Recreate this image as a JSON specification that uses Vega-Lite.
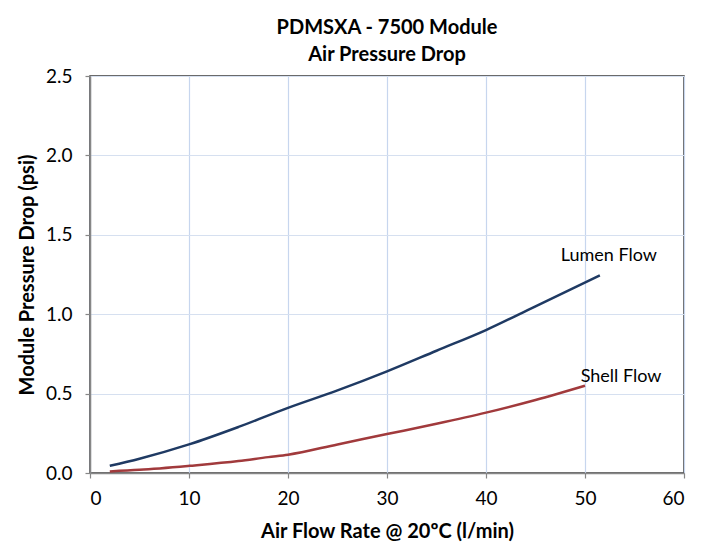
{
  "$schema": "https://vega.github.io/schema/vega-lite/v6.json",
  "width": 594,
  "height": 397,
  "autosize": {"type": "none"},
  "padding": {"left": 90, "top": 76, "right": 23, "bottom": 75},
  "background": "white",
  "title": {
    "text": ["PDMSXA - 7500 Module", "Air Pressure Drop"],
    "font": "Lato",
    "fontSize": 20,
    "fontWeight": "bold",
    "lineHeight": 27,
    "color": "#000000",
    "anchor": "middle",
    "offset": 2
  },
  "config": {
    "font": "Lato",
    "view": {"stroke": "#3a3a3a", "strokeWidth": 1.5},
    "axis": {
      "labelFont": "Lato",
      "labelFontSize": 19,
      "labelColor": "#000000",
      "titleFont": "Lato",
      "titleFontSize": 20,
      "titleFontWeight": "bold",
      "titleColor": "#000000",
      "domainColor": "#878787",
      "domainWidth": 1.5,
      "tickColor": "#878787",
      "tickSize": 5,
      "tickWidth": 1.2
    }
  },
  "data": {
    "values": [
      {"flow": 2, "dp": 0.045, "series": "Lumen Flow"},
      {"flow": 5, "dp": 0.09, "series": "Lumen Flow"},
      {"flow": 10, "dp": 0.18, "series": "Lumen Flow"},
      {"flow": 15, "dp": 0.29, "series": "Lumen Flow"},
      {"flow": 20, "dp": 0.41, "series": "Lumen Flow"},
      {"flow": 25, "dp": 0.52, "series": "Lumen Flow"},
      {"flow": 30, "dp": 0.64, "series": "Lumen Flow"},
      {"flow": 35, "dp": 0.77, "series": "Lumen Flow"},
      {"flow": 40, "dp": 0.9, "series": "Lumen Flow"},
      {"flow": 45, "dp": 1.05, "series": "Lumen Flow"},
      {"flow": 51.5, "dp": 1.245, "series": "Lumen Flow"},
      {"flow": 2, "dp": 0.01, "series": "Shell Flow"},
      {"flow": 5, "dp": 0.02, "series": "Shell Flow"},
      {"flow": 10, "dp": 0.045, "series": "Shell Flow"},
      {"flow": 15, "dp": 0.075, "series": "Shell Flow"},
      {"flow": 18, "dp": 0.1, "series": "Shell Flow"},
      {"flow": 20, "dp": 0.115, "series": "Shell Flow"},
      {"flow": 25, "dp": 0.18, "series": "Shell Flow"},
      {"flow": 30, "dp": 0.245, "series": "Shell Flow"},
      {"flow": 35, "dp": 0.31, "series": "Shell Flow"},
      {"flow": 40, "dp": 0.38, "series": "Shell Flow"},
      {"flow": 45, "dp": 0.46, "series": "Shell Flow"},
      {"flow": 50, "dp": 0.55, "series": "Shell Flow"}
    ]
  },
  "encoding": {
    "x": {
      "field": "flow",
      "type": "quantitative",
      "scale": {"domain": [0, 60], "nice": false},
      "axis": {
        "title": "Air Flow Rate @ 20ºC (l/min)",
        "values": [0, 10, 20, 30, 40, 50, 60],
        "grid": true,
        "gridColor": "#c7d6ee",
        "gridWidth": 1.2,
        "labelPadding": 11,
        "titlePadding": 13
      }
    },
    "y": {
      "field": "dp",
      "type": "quantitative",
      "scale": {"domain": [0, 2.5], "nice": false},
      "axis": {
        "title": "Module Pressure Drop (psi)",
        "values": [0, 0.5, 1, 1.5, 2, 2.5],
        "format": ".1f",
        "grid": true,
        "gridColor": "#d6e0f0",
        "gridWidth": 1.2,
        "labelPadding": 13,
        "titlePadding": 8
      }
    },
    "color": {
      "field": "series",
      "type": "nominal",
      "scale": {"domain": ["Lumen Flow", "Shell Flow"], "range": ["#1f3a63", "#a13a3c"]},
      "legend": null
    }
  },
  "layer": [
    {
      "mark": {"type": "line", "interpolate": "monotone", "strokeWidth": 2.5}
    },
    {
      "transform": [{"filter": "datum.series == 'Lumen Flow' && datum.flow == 51.5"}],
      "mark": {"type": "text", "dx": 9, "dy": -19, "align": "center", "baseline": "middle", "font": "Lato", "fontSize": 18, "color": "#000000"},
      "encoding": {"text": {"field": "series"}, "color": {"value": "#000000"}}
    },
    {
      "transform": [{"filter": "datum.series == 'Shell Flow' && datum.flow == 50"}],
      "mark": {"type": "text", "dx": 36, "dy": -9, "align": "center", "baseline": "middle", "font": "Lato", "fontSize": 18, "color": "#000000"},
      "encoding": {"text": {"field": "series"}, "color": {"value": "#000000"}}
    }
  ]
}
